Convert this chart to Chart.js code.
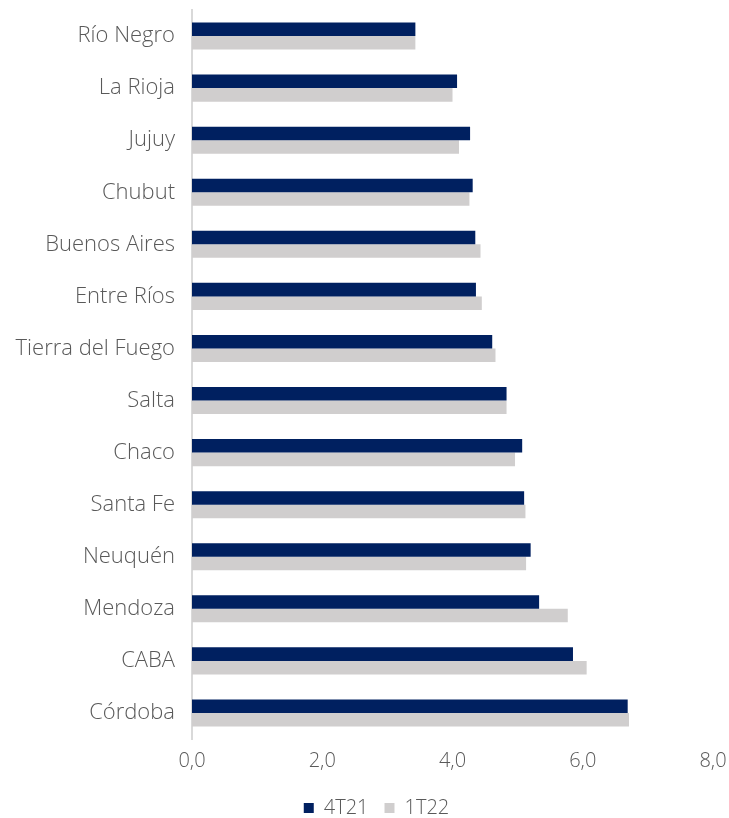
<!DOCTYPE html>
<html>
<head>
<meta charset="utf-8">
<script src="https://cdn.jsdelivr.net/npm/chart.js@4.4.1/dist/chart.umd.min.js"></script>
<style>
  html, body { margin: 0; padding: 0; background: #fff; }
  #wrap { width: 729px; height: 818px; }
</style>
</head>
<body>
<div id="wrap"><canvas id="chart"></canvas></div>
<script>
const provincias = ['Río Negro', 'La Rioja', 'Jujuy', 'Chubut', 'Buenos Aires', 'Entre Ríos',
  'Tierra del Fuego', 'Salta', 'Chaco', 'Santa Fe', 'Neuquén', 'Mendoza', 'CABA', 'Córdoba'];
const serie4T21 = [3.43, 4.07, 4.27, 4.31, 4.35, 4.36, 4.61, 4.83, 5.07, 5.10, 5.20, 5.33, 5.85, 6.69];
const serie1T22 = [3.43, 4.00, 4.10, 4.26, 4.43, 4.45, 4.66, 4.83, 4.96, 5.12, 5.13, 5.77, 6.06, 6.71];
const ejeX = [0, 2, 4, 6, 8];

const gris = '#595959';
const fuente = '"Open Sans", "Noto Sans", sans-serif';

// corre la leyenda un poco a la derecha, como en el original
const moverLeyenda = {
  id: 'moverLeyenda',
  afterLayout(chart) {
    chart.legend.left += 20;
    chart.legend.right += 20;
  }
};

const ctx = document.getElementById('chart').getContext('2d');
new Chart(ctx, {
  type: 'bar',
  data: {
    labels: provincias,
    datasets: [
      { label: '4T21', data: serie4T21, backgroundColor: '#002060' },
      { label: '1T22', data: serie1T22, backgroundColor: '#d0cece' }
    ]
  },
  options: {
    indexAxis: 'y',
    responsive: true,
    maintainAspectRatio: false,
    animation: false,
    categoryPercentage: 0.52,
    barPercentage: 1.0,
    layout: { padding: { top: 10, right: 16, left: 0, bottom: -10 } },
    plugins: {
      tooltip: { enabled: false },
      legend: {
        position: 'bottom',
        labels: {
          color: gris,
          font: { family: fuente, size: 20, weight: 300 },
          boxWidth: 10,
          boxHeight: 10,
          padding: 16
        }
      }
    },
    scales: {
      x: {
        min: ejeX[0],
        max: ejeX[ejeX.length - 1],
        grid: { display: false, drawTicks: false },
        border: { display: false },
        afterBuildTicks: function (axis) {
          axis.ticks = ejeX.map(v => ({ value: v }));
        },
        afterFit: function (axis) {
          axis.height = 43;
          axis.paddingLeft = 0;
          axis.paddingRight = 0;
        },
        ticks: {
          color: gris,
          padding: 10,
          font: { family: fuente, size: 20, weight: 300 },
          callback: v => v.toFixed(1).replace('.', ',')
        }
      },
      y: {
        grid: { display: false, drawTicks: false },
        border: { display: true, color: '#d9d9d9', width: 2 },
        afterFit: function (axis) {
          axis.width = 192;
          axis.paddingTop = 0;
          axis.paddingBottom = 0;
        },
        ticks: {
          color: gris,
          padding: 17,
          font: { family: fuente, size: 22, weight: 300 }
        }
      }
    }
  },
  plugins: [moverLeyenda]
});
</script>
</body>
</html>
